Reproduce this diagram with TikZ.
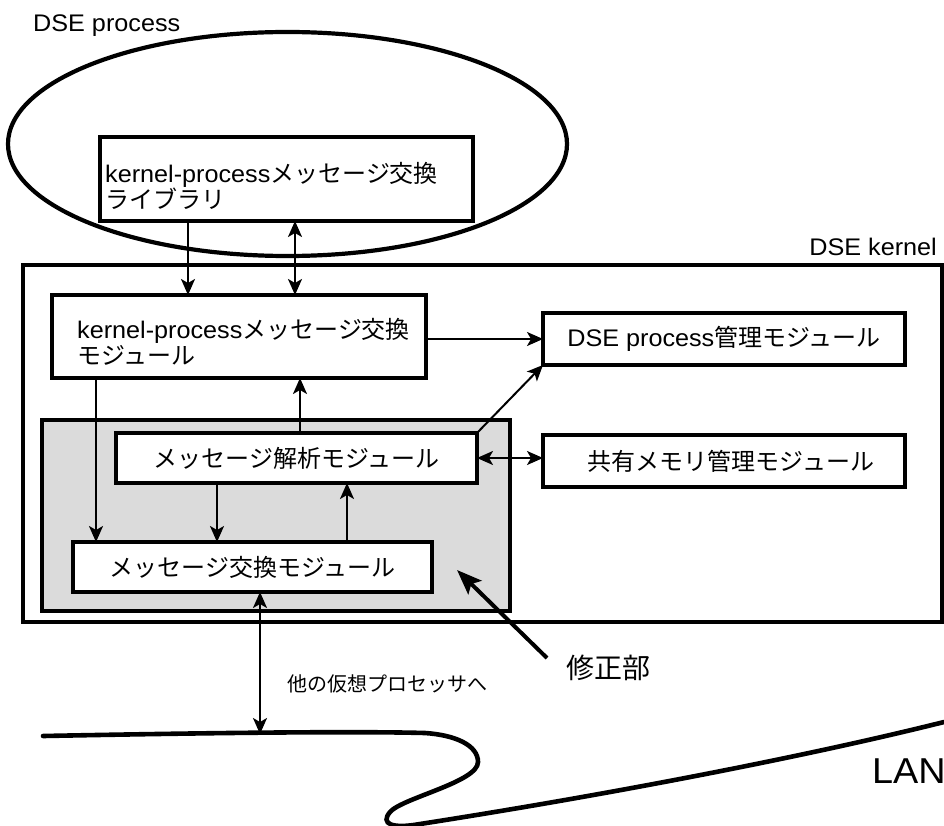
\documentclass[tikz,border=0pt]{standalone}
\usepackage{fontspec}
\setmainfont{Liberation Sans}[FakeStretch=1.05]
\newfontfamily\cjk{Noto Sans CJK JP}
\newcommand\jp[1]{{\cjk #1}}
\usetikzlibrary{arrows.meta,shapes.geometric}

\tikzset{
  box/.style={draw, line width=4.4pt, fill=white, inner sep=0pt, outer sep=0pt,
    anchor=north west, font=\fontsize{24}{26}\selectfont},
  txt/.style={inner sep=0pt, font=\fontsize{24}{26}\selectfont},
  tip/.tip={Stealth[length=16pt,width=14pt,inset=4pt]},
  arr/.style={line width=2pt, -tip},
  darr/.style={line width=2pt, tip-tip},
  bigarr/.style={line width=4pt, -{Stealth[length=25pt,width=19pt,inset=5pt]}},
}

\begin{document}
\begin{tikzpicture}[x=1pt, y=-1pt]
  \useasboundingbox (0,0) rectangle (944,826);

  % process side
  \node[draw, ellipse, line width=4.2pt, minimum width=559pt, minimum height=224pt,
        inner sep=0pt, outer sep=0pt] (proc) at (287.5,144) {};
  \node[txt, anchor=base west] (proclbl) at (33,32) {DSE process};
  \node[box, minimum width=373pt, minimum height=84pt] (lib) at (100,137) {};
  \node[txt, anchor=west, align=left] (libtxt) at (105,186)
    {kernel-process\jp{メッセージ交換}\\\jp{ライブラリ}};

  % kernel side
  \node[draw, line width=4pt, minimum width=919pt, minimum height=357pt,
        inner sep=0pt, outer sep=0pt, anchor=north west] (kernel) at (23,265) {};
  \node[txt, anchor=base east] (kernlbl) at (937,255) {DSE kernel};

  \node[box, minimum width=374pt, minimum height=83pt] (kpm) at (52,295) {};
  \node[txt, anchor=west, align=left] (kpmtxt) at (77,342)
    {kernel-process\jp{メッセージ交換}\\\jp{モジュール}};

  \node[box, minimum width=362pt, minimum height=52pt] (dpm) at (543,313)
    {DSE process\jp{管理モジュール}};
  \node[box, minimum width=362pt, minimum height=52pt] (shm) at (543,435)
    {\hspace*{14pt}\jp{共有メモリ管理モジュール}};

  % modified part
  \node[box, fill=black!14, minimum width=468pt, minimum height=191pt] (fix) at (42,420) {};
  \node[box, minimum width=361pt, minimum height=50pt] (ana) at (116,433)
    {\jp{メッセージ解析モジュール}};
  \node[box, minimum width=359pt, minimum height=50pt] (mx) at (73,542)
    {\jp{メッセージ交換モジュール}};

  % LAN
  \draw[line width=4.6pt, line cap=round]
    (43,736) .. controls (200,733) and (350,731) .. (425,733)
    .. controls (455,735) and (478,745) .. (478,762)
    .. controls (478,782) and (402,798) .. (390,812)
    .. controls (380,824) and (392,829) .. (420,824)
    .. controls (600,796) and (800,758) .. (944,722);
  \coordinate (lanpt) at (260,734);
  \node[txt, font=\fontsize{36}{40}\selectfont, anchor=base west] (lanlbl) at (872,783) {LAN};

  % connectors
  \coordinate (a1) at ([xshift=88pt]lib.south west);
  \draw[arr] (a1) -- (a1 |- kpm.north);
  \coordinate (a2) at ([xshift=195pt]lib.south west);
  \draw[darr] (a2) -- (a2 |- kpm.north);

  \draw[arr] (kpm.east |- dpm.west) -- (dpm.west);

  \coordinate (a3) at ([xshift=44pt]kpm.south west);
  \draw[arr] (a3) -- (a3 |- mx.north);

  \coordinate (a4) at ([xshift=184pt]ana.north west);
  \draw[arr] (a4) -- (a4 |- kpm.south);

  \coordinate (a5) at ([xshift=101pt]ana.south west);
  \draw[arr] (a5) -- (a5 |- mx.north);

  \coordinate (a6) at ([xshift=274pt]mx.north west);
  \draw[arr] (a6) -- (a6 |- ana.south);

  \draw[arr] (ana.north east) -- (dpm.south west);
  \draw[darr] (ana.east) -- (ana.east -| shm.west);

  \coordinate (a7) at ([xshift=187pt]mx.south west);
  \draw[darr] (a7) -- (lanpt);
  \node[txt, font=\fontsize{20}{22}\selectfont, anchor=west] (other) at (287,684)
    {\jp{他の仮想プロセッサへ}};

  % pointer to the modified part
  \node[txt, font=\fontsize{28}{30}\selectfont] (fixlbl) at (608,668) {\jp{修正部}};
  \coordinate (fixtail) at (547,658);
  \coordinate (fixtip) at (457,570);
  \draw[bigarr] (fixtail) -- (fixtip);
\end{tikzpicture}
\end{document}
